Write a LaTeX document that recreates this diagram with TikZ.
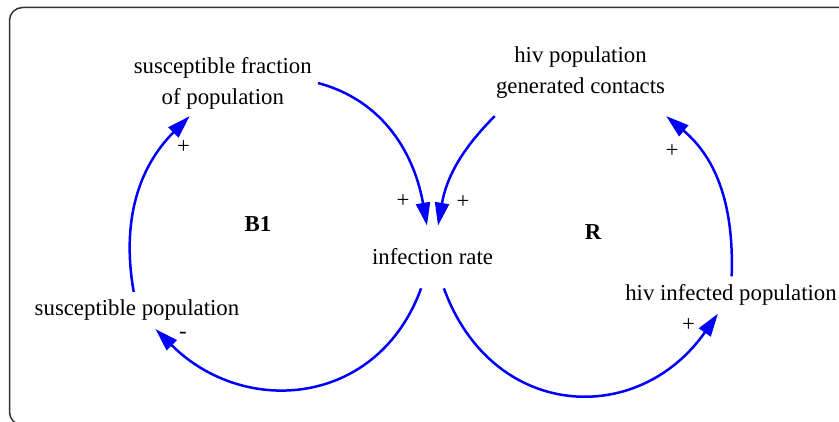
\documentclass[tikz,border=0pt]{standalone}
\usepackage{fontspec}
\setmainfont{Liberation Serif}
\usepackage{tikz}
\usetikzlibrary{arrows.meta}
\tikzset{
  %% Variable label
  var/.style={
    align=center, font=\fontsize{22.8}{31}\selectfont,
    inner xsep=6pt, inner ysep=8pt
  },
  %% Loop name
  loopname/.style={font=\fontsize{22.8}{31}\selectfont\bfseries,
                   inner sep=0pt},
  %% Polarity sign
  pol/.style={font=\fontsize{22.8}{31}\selectfont, inner sep=0pt},
  %% Causal link
  link/.style={-{Triangle[length=23pt,width=14pt]},
               draw=blue, line width=2.5pt},
}

\begin{document}
\begin{tikzpicture}[x=1pt, y=1pt]

  \useasboundingbox (0,0) rectangle (839,421);
  \clip (0,0) rectangle (839,421);

  %% Frame
  \draw[black!80, line width=1.5pt, rounded corners=13pt]
       (9.5,-4) rectangle (880,413.5);

  %% ---- Variables ----
  \node[var, inner ysep=7pt] (sfrac) at (222.8,338)
       {susceptible fraction\\of population};
  \node[var, inner xsep=1pt, inner ysep=17pt] (hcont) at (580.5,348)
       {hiv population\\generated contacts};
  \node[var, inner ysep=23pt] (inf) at (432.5,164) {infection rate};
  \node[var] (spop) at (137,110.5) {susceptible population};
  \node[var] (hinf) at (731,126) {hiv infected population};

  %% ---- Loop names ----
  \node[loopname] (b1) at (258,196.5) {B1};
  \node[loopname] (r) at (593,188.5) {R};

  %% ---- Links ----
  \draw[link] (sfrac.east) to[out=-15, in=100] (inf);
  \draw[link] (hcont.south west) to[out=225, in=80] (inf);
  \draw[link] (inf) to[out=250, in=-45, looseness=1.2] (spop);
  \draw[link] (spop) to[out=100, in=225] (sfrac);
  \draw[link] (inf) to[out=-70, in=235, looseness=1.3] (hinf);
  \draw[link] (hinf) to[out=88, in=-40] (hcont.south east);

  %% ---- Polarities ----
  \foreach \x/\y/\s [count=\i] in {183.5/274/+, 403/220/+, 463/219/+,
                                   672/270/+, 688.5/96/+, 183/86/-}
    \node[pol] (pol\i) at (\x,\y) {\s};

\end{tikzpicture}
\end{document}
